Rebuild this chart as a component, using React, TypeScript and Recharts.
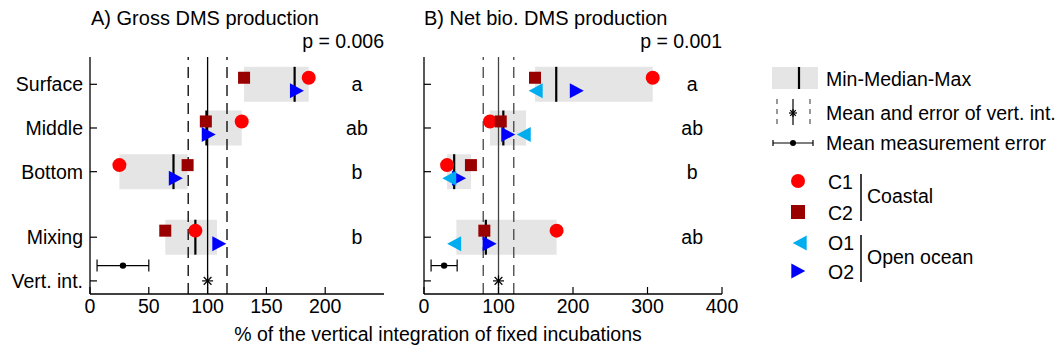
import React from 'react'
import { ScatterChart, Scatter, XAxis, YAxis, ReferenceArea, ReferenceLine, ErrorBar } from 'recharts'

// rows on the y axis
const rowNames = ['Surface', 'Middle', 'Bottom', 'Mixing', 'Vert. int.']
const rowPos = [1, 2, 3, 4.5, 5.5]

// A) gross DMS production, % of vertical integration (Surface, Middle, Bottom, Mixing)
const grossC1 = [186, 129, 25, 89.6]
const grossC2 = [131, 98.5, 83, 64]
const grossO1: (number | null)[] = [null, null, null, null]
const grossO2 = [174, 99, 71, 108]
const grossLetters = ['a', 'ab', 'b', 'b']
const grossVertMean = 100
const grossVertErr = 16.5
const grossMeasMean = 28
const grossMeasErr = 22
const grossP = 'p = 0.006'
const grossTicks = [0, 50, 100, 150, 200]

// B) net biological DMS production
const netC1 = [307, 88.6, 31, 178]
const netC2 = [149, 103, 63, 81]
const netO1 = [153, 137, 37, 43.5]
const netO2 = [202, 110, 44, 85]
const netLetters = ['a', 'ab', 'b', 'ab']
const netVertMean = 100
const netVertErr = 20.5
const netMeasMean = 27
const netMeasErr = 17.5
const netP = 'p = 0.001'
const netTicks = [0, 100, 200, 300, 400]

const FONT = '"Liberation Sans", Arial, sans-serif'
const FS = 19.5
const RED = '#FF0000'
const DARKRED = '#990000'
const LIGHTBLUE = '#00AEEF'
const BLUE = '#0000FF'

const circleShape = (p: any) => <circle cx={p.cx} cy={p.cy} r={7} fill={RED} />
const squareShape = (p: any) => <rect x={p.cx - 6} y={p.cy - 6} width={12} height={12} fill={DARKRED} />
const rightTri = (cx: number, cy: number, fill: string) => (
    <polygon points={`${cx - 4.7},${cy - 7.5} ${cx + 9.3},${cy} ${cx - 4.7},${cy + 7.5}`} fill={fill} />
)
const leftTri = (cx: number, cy: number, fill: string) => (
    <polygon points={`${cx + 4.7},${cy - 7.5} ${cx - 9.3},${cy} ${cx + 4.7},${cy + 7.5}`} fill={fill} />
)
const asterisk = (cx: number, cy: number, s: number) => (
    <g stroke="#000" strokeWidth={1.2}>
        <line x1={cx} y1={cy - s} x2={cx} y2={cy + s} />
        <line x1={cx - s} y1={cy} x2={cx + s} y2={cy} />
        <line x1={cx - s * 0.7} y1={cy - s * 0.7} x2={cx + s * 0.7} y2={cy + s * 0.7} />
        <line x1={cx - s * 0.7} y1={cy + s * 0.7} x2={cx + s * 0.7} y2={cy - s * 0.7} />
    </g>
)

function pts(vals: (number | null)[], off: number) {
    return vals
        .map((v, i) => (v == null ? null : { x: v, y: rowPos[i] + off }))
        .filter((d) => d != null) as { x: number; y: number }[]
}

function stats(lists: (number | null)[][], i: number) {
    const v = lists.map((l) => l[i]).filter((x) => x != null) as number[]
    v.sort((a, b) => a - b)
    const n = v.length
    const med = n % 2 ? v[(n - 1) / 2] : (v[n / 2 - 1] + v[n / 2]) / 2
    return { min: v[0], max: v[n - 1], med }
}

const BottomTick = (p: any) => (
    <g>
        <line x1={p.x} x2={p.x} y1={p.y} y2={p.y - 7} stroke="#000" strokeWidth={1.2} />
        <text x={p.x} y={p.y + 19} textAnchor="middle" fontSize={FS} fontFamily={FONT} fill="#000">{p.payload.value}</text>
    </g>
)
const TopTick = (p: any) => <line x1={p.x} x2={p.x} y1={p.y} y2={p.y + 7} stroke="#000" strokeWidth={1.2} />
const RightTick = (p: any) => <line x1={p.x} x2={p.x - 7} y1={p.y} y2={p.y} stroke="#000" strokeWidth={1.2} />
const makeLeftTick = (labels: boolean) => (p: any) => (
    <g>
        <line x1={p.x} x2={p.x + 7} y1={p.y} y2={p.y} stroke="#000" strokeWidth={1.2} />
        {labels && (
            <text x={p.x - 7} y={p.y} dy="0.35em" textAnchor="end" fontSize={FS} fontFamily={FONT} fill="#000">
                {rowNames[rowPos.indexOf(p.payload.value)]}
            </text>
        )}
    </g>
)

interface PanelProps {
    c1: (number | null)[]; c2: (number | null)[]; o1: (number | null)[]; o2: (number | null)[]
    letters: string[]; vertMean: number; vertErr: number; measMean: number; measErr: number
    xMax: number; ticks: number[]; letterX: number; labels: boolean
    width: number; yWidth: number; right: number; lineColor: string
}

function Panel(props: PanelProps) {
    const { c1, c2, o1, o2, letters, vertMean, vertErr, measMean, measErr, xMax, ticks, letterX, labels, width, yWidth, right, lineColor } = props
    const lists = [c1, c2, o1, o2]
    const depth = letters.map((_, i) => ({ i, ...stats(lists, i) }))
    const letterData = letters.map((l, i) => ({ x: letterX, y: rowPos[i], label: l }))
    const measData = [{ x: measMean, y: 5.15, err: measErr }]
    const vertData = [{ x: vertMean, y: rowPos[4] }]
    const domY: [number, number] = [0.375, 5.8]
    return (
        <ScatterChart width={width} height={353} margin={{ top: 57, right, bottom: 19, left: 0 }}>
            <XAxis type="number" dataKey="x" domain={[0, xMax]} ticks={ticks} allowDataOverflow height={40}
                axisLine={{ stroke: '#000', strokeWidth: 1.3 }} tickLine={false} tickSize={0} tickMargin={0} tick={<BottomTick />} />
            <XAxis xAxisId="top" orientation="top" type="number" domain={[0, xMax]} ticks={ticks} allowDataOverflow height={0}
                axisLine={{ stroke: '#000', strokeWidth: 1.3 }} tickLine={false} tickSize={0} tickMargin={0} tick={<TopTick />} />
            <YAxis type="number" dataKey="y" domain={domY} reversed ticks={rowPos} allowDataOverflow width={yWidth}
                axisLine={{ stroke: '#000', strokeWidth: 1.3 }} tickLine={false} tickSize={0} tickMargin={0} tick={makeLeftTick(labels)} />
            <YAxis yAxisId="right" orientation="right" type="number" domain={domY} reversed ticks={rowPos} allowDataOverflow width={0}
                axisLine={{ stroke: '#000', strokeWidth: 1.3 }} tickLine={false} tickSize={0} tickMargin={0} tick={<RightTick />} />
            <ReferenceLine x={vertMean} stroke={lineColor} strokeWidth={1.3} />
            <ReferenceLine x={vertMean - vertErr} stroke={lineColor} strokeWidth={1.3} strokeDasharray="11 7" />
            <ReferenceLine x={vertMean + vertErr} stroke={lineColor} strokeWidth={1.3} strokeDasharray="11 7" />
            {depth.map((d) => (
                <ReferenceArea key={'a' + d.i} x1={d.min} x2={d.max} y1={rowPos[d.i] - 0.4} y2={rowPos[d.i] + 0.4}
                    fill="#E5E5E5" fillOpacity={1} stroke="none" ifOverflow="visible" />
            ))}
            {depth.map((d) => (
                <ReferenceLine key={'m' + d.i} stroke="#000" strokeWidth={2.2}
                    segment={[{ x: d.med, y: rowPos[d.i] - 0.4 }, { x: d.med, y: rowPos[d.i] + 0.4 }]} />
            ))}
            <Scatter data={pts(c1, -0.15)} shape={circleShape} isAnimationActive={false} />
            <Scatter data={pts(c2, -0.15)} shape={squareShape} isAnimationActive={false} />
            <Scatter data={pts(o2, 0.15)} shape={(p: any) => rightTri(p.cx, p.cy, BLUE)} isAnimationActive={false} />
            <Scatter data={pts(o1, 0.15)} shape={(p: any) => leftTri(p.cx, p.cy, LIGHTBLUE)} isAnimationActive={false} />
            <Scatter data={vertData} shape={(p: any) => asterisk(p.cx, p.cy, 5.5)} isAnimationActive={false} />
            <Scatter data={measData} shape={(p: any) => <circle cx={p.cx} cy={p.cy} r={3.2} fill="#000" />} isAnimationActive={false}>
                <ErrorBar dataKey="err" direction="x" width={6} stroke="#000" strokeWidth={1.2} isAnimationActive={false} />
            </Scatter>
            <Scatter data={letterData} isAnimationActive={false}
                shape={(p: any) => (
                    <text x={p.cx} y={p.cy} dy="0.35em" textAnchor="middle" fontSize={FS} fontFamily={FONT} fill="#000">{p.payload.label}</text>
                )} />
        </ScatterChart>
    )
}

function Overlay() {
    const t = { fontSize: FS, fontFamily: FONT, fill: '#000' }
    return (
        <svg width={1059} height={353} style={{ position: 'absolute', left: 0, top: 0, pointerEvents: 'none' }}>
            <text x={91} y={25} {...t} fontSize={20}>A) Gross DMS production</text>
            <text x={384} y={48} textAnchor="end" {...t}>{grossP}</text>
            <text x={424} y={25} {...t} fontSize={20}>B) Net bio. DMS production</text>
            <text x={722} y={48} textAnchor="end" {...t}>{netP}</text>
            <text x={438} y={341} textAnchor="middle" {...t}>% of the vertical integration of fixed incubations</text>

            {/* legend */}
            <rect x={772} y={67} width={46} height={22} fill="#E5E5E5" />
            <line x1={799} x2={799} y1={67} y2={89} stroke="#000" strokeWidth={2.2} />
            <text x={826} y={79} dy="0.35em" {...t}>Min-Median-Max</text>

            <line x1={777} x2={777} y1={99} y2={124} stroke="#555" strokeWidth={1.2} strokeDasharray="5 5" />
            <line x1={810} x2={810} y1={99} y2={124} stroke="#555" strokeWidth={1.2} strokeDasharray="5 5" />
            <line x1={793} x2={793} y1={99} y2={125} stroke="#000" strokeWidth={1.2} />
            {asterisk(793, 113, 4)}
            <text x={826} y={113} dy="0.35em" {...t}>Mean and error of vert. int.</text>

            <line x1={773} x2={813} y1={143} y2={143} stroke="#000" strokeWidth={1.2} />
            <line x1={773} x2={773} y1={140} y2={146} stroke="#000" strokeWidth={1.2} />
            <line x1={813} x2={813} y1={140} y2={146} stroke="#000" strokeWidth={1.2} />
            <circle cx={793} cy={143} r={3} fill="#000" />
            <text x={826} y={143} dy="0.35em" {...t}>Mean measurement error</text>

            <circle cx={798} cy={181} r={7} fill={RED} />
            <rect x={791} y={205} width={14} height={14} fill={DARKRED} />
            {leftTri(802, 243, LIGHTBLUE)}
            {rightTri(796, 271, BLUE)}
            <text x={828} y={182} dy="0.35em" {...t}>C1</text>
            <text x={828} y={213} dy="0.35em" {...t}>C2</text>
            <text x={828} y={243} dy="0.35em" {...t}>O1</text>
            <text x={828} y={272} dy="0.35em" {...t}>O2</text>
            <line x1={861} x2={861} y1={174} y2={221} stroke="#000" strokeWidth={1.5} />
            <line x1={861} x2={861} y1={235} y2={282} stroke="#000" strokeWidth={1.5} />
            <text x={867} y={196} dy="0.35em" {...t}>Coastal</text>
            <text x={867} y={257} dy="0.35em" {...t}>Open ocean</text>
        </svg>
    )
}

export default function App() {
    return (
        <div style={{ position: 'absolute', left: 0, top: 0, width: 1059, height: 353, background: '#fff', fontFamily: FONT }}>
            <div style={{ position: 'absolute', left: 0, top: 0 }}>
                <Panel c1={grossC1} c2={grossC2} o1={grossO1} o2={grossO2} letters={grossLetters}
                    vertMean={grossVertMean} vertErr={grossVertErr} measMean={grossMeasMean} measErr={grossMeasErr}
                    xMax={250} ticks={grossTicks} letterX={227} labels={true} width={400} yWidth={90} right={16} lineColor="#000" />
            </div>
            <div style={{ position: 'absolute', left: 400, top: 0 }}>
                <Panel c1={netC1} c2={netC2} o1={netO1} o2={netO2} letters={netLetters}
                    vertMean={netVertMean} vertErr={netVertErr} measMean={netMeasMean} measErr={netMeasErr}
                    xMax={400} ticks={netTicks} letterX={360} labels={false} width={340} yWidth={24} right={18} lineColor="#444" />
            </div>
            <Overlay />
        </div>
    )
}
